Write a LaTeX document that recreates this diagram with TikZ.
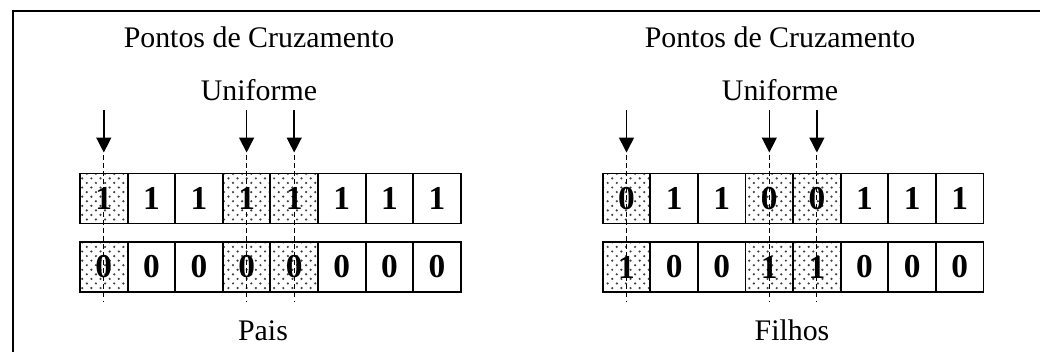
\documentclass[tikz,border=0pt]{standalone}
\usepackage{fontspec}
\setmainfont{Liberation Serif}
\usetikzlibrary{patterns,arrows.meta}

\pgfdeclarepatternformonly{pontilhado}{\pgfqpoint{-1pt}{-1pt}}{\pgfqpoint{4pt}{4pt}}{\pgfqpoint{5.2pt}{5.2pt}}{
  \pgfpathcircle{\pgfqpoint{0pt}{0pt}}{0.7pt}
  \pgfpathcircle{\pgfqpoint{2.6pt}{2.6pt}}{0.7pt}
  \pgfusepath{fill}
}

\tikzset{
  gene/.style={draw, line width=1.1pt, minimum width=0.952cm, minimum height=1cm, inner sep=0pt,
    font=\fontsize{19}{20}\selectfont\bfseries},
  troca/.style={gene, pattern=pontilhado, pattern color=black!75},
  seta/.style={line width=0.8pt, -{Triangle[width=8.5pt,length=8.5pt]}, shorten >=0.4cm},
  corte/.style={line width=0.5pt, dash pattern=on 2.8pt off 1.8pt},
  rotulo/.style={anchor=base, font=\fontsize{17}{19}\selectfont}
}

\begin{document}
\begin{tikzpicture}
\useasboundingbox (0,0) rectangle (20.8,7.04);
\draw[line width=1pt] (0.26,0) -- (0.26,6.82) -- (20.8,6.82);

% pais
\foreach \i/\s in {1/troca,2/gene,3/gene,4/troca,5/troca,6/gene,7/gene,8/gene} {
  \node[\s] (pa\i) at ({2.076+0.952*(\i-1)},3.07) {1};
  \node[\s] (pb\i) at ({2.076+0.952*(\i-1)},1.70) {0};
}
% filhos
\foreach \i/\s/\x/\y in {1/troca/0/1,2/gene/1/0,3/gene/1/0,4/troca/0/1,5/troca/0/1,6/gene/1/0,7/gene/1/0,8/gene/1/0} {
  \node[\s] (fa\i) at ({12.53+0.952*(\i-1)},3.07) {\x};
  \node[\s] (fb\i) at ({12.53+0.952*(\i-1)},1.70) {\y};
}

% pontos de corte
\foreach \i in {1,4,5} {
  \coordinate (sp\i) at (pa\i |- 0,4.84);
  \coordinate (sf\i) at (fa\i |- 0,4.84);
  \draw[seta] (sp\i) -- (pa\i);
  \draw[seta] (sf\i) -- (fa\i);
  \draw[corte] ([yshift=0.35cm]pa\i.north) -- ([yshift=-0.18cm]pb\i.south);
  \draw[corte] ([yshift=0.35cm]fa\i.north) -- ([yshift=-0.18cm]fb\i.south);
}

\node[rotulo] (tp) at (5.18,6.08) {Pontos de Cruzamento};
\node[rotulo] (up) at (5.18,5.03) {Uniforme};
\node[rotulo] (tf) at (15.6,6.08) {Pontos de Cruzamento};
\node[rotulo] (uf) at (15.6,5.03) {Uniforme};
\node[rotulo] (pais) at (5.26,0.22) {Pais};
\node[rotulo] (filhos) at (15.84,0.22) {Filhos};
\end{tikzpicture}
\end{document}
